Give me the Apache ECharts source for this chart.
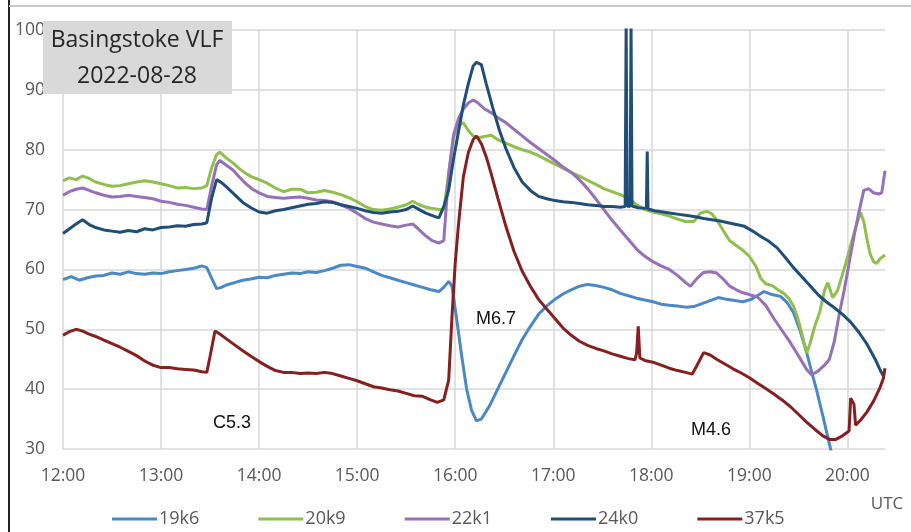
<!DOCTYPE html>
<html>
<head>
<meta charset="utf-8">
<script src="https://cdn.jsdelivr.net/npm/echarts@6/dist/echarts.min.js"></script>
<style>
  html, body { margin: 0; padding: 0; background: #fff; }
  #main { width: 911px; height: 532px; }
</style>
</head>
<body>
<div id="main"></div>
<script>
// x = minutes after 12:00 UTC, y = signal level
var hourLabels = ['12:00', '13:00', '14:00', '15:00', '16:00', '17:00', '18:00', '19:00', '20:00'];
var seriesNames = ['19k6', '20k9', '22k1', '24k0', '37k5'];

var s19k6 = [
  [0,58.3],[5,58.8],[10,58.2],[15,58.6],[20,58.9],[25,59.0],[30,59.4],[35,59.2],[40,59.6],[45,59.3],
  [50,59.2],[55,59.4],[60,59.3],[65,59.6],[70,59.8],[75,60.0],[80,60.2],[85,60.6],[88,60.3],[91,58.5],
  [94,56.8],[97,57.0],[100,57.4],[105,57.8],[110,58.2],[115,58.4],[120,58.7],[125,58.6],[130,59.0],[135,59.2],
  [140,59.4],[145,59.3],[150,59.6],[155,59.5],[160,59.8],[165,60.2],[170,60.7],[175,60.8],[180,60.5],[185,60.2],
  [190,59.6],[195,59.0],[200,58.6],[205,58.2],[210,57.8],[215,57.4],[220,57.0],[225,56.6],[230,56.3],[233,57.0],
  [236,58.0],[238,57.2],[241,51.5],[244,45.5],[247,40.0],[250,36.5],[253,34.7],[256,35.0],[261,37.2],[266,40.0],
  [271,42.8],[276,45.6],[281,48.3],[286,50.5],[291,52.5],[296,53.9],[301,55.0],[306,55.9],[311,56.6],[316,57.2],
  [321,57.5],[326,57.3],[331,57.0],[336,56.6],[341,56.0],[346,55.6],[351,55.2],[356,54.9],[361,54.6],[366,54.2],
  [371,54.0],[376,53.9],[381,53.7],[386,53.8],[391,54.3],[396,54.8],[401,55.3],[406,55.0],[411,54.8],[416,54.6],
  [421,55.0],[426,55.8],[429,56.3],[434,55.8],[439,55.5],[443,54.5],[447,52.8],[451,49.8],[455,46.2],[458,43.0],
  [461,40.0],[465,35.5],[469,30.8],[472,27.5]
];

var s20k9 = [
  [0,74.8],[4,75.3],[8,75.0],[12,75.6],[16,75.2],[20,74.6],[25,74.2],[30,73.9],[35,74.0],[40,74.3],
  [45,74.6],[50,74.8],[55,74.6],[60,74.3],[65,74.0],[70,73.6],[75,73.7],[80,73.5],[85,73.6],[88,74.0],
  [91,77.0],[94,79.2],[96,79.6],[100,78.6],[104,77.8],[108,76.8],[112,76.0],[116,75.4],[120,75.0],[125,74.4],
  [130,73.6],[135,73.0],[140,73.4],[145,73.4],[150,72.8],[155,72.9],[160,73.2],[165,72.9],[170,72.5],[175,72.0],
  [180,71.3],[185,70.5],[190,70.0],[195,69.9],[200,70.1],[205,70.4],[210,70.8],[214,71.4],[218,70.8],[222,70.4],
  [226,70.2],[230,70.0],[233,70.0],[236,76.0],[239,82.0],[242,84.0],[245,84.5],[248,83.2],[251,82.3],[254,82.0],
  [258,82.2],[262,82.4],[266,81.7],[271,81.1],[276,80.5],[281,80.0],[286,79.6],[291,79.0],[296,78.3],[301,77.6],
  [306,76.9],[311,76.2],[316,75.6],[321,74.9],[326,74.2],[331,73.5],[336,73.0],[341,72.5],[346,71.9],[351,70.8],
  [356,70.0],[361,69.6],[366,69.3],[371,68.9],[376,68.4],[381,68.0],[386,68.0],[390,69.4],[394,69.7],[397,69.3],
  [400,68.3],[404,66.5],[408,64.8],[412,64.0],[416,63.2],[420,62.2],[424,60.5],[427,58.5],[430,57.6],[434,57.3],
  [438,56.5],[441,56.0],[444,55.2],[447,53.9],[450,51.5],[453,48.3],[455,46.0],[457,47.5],[460,50.5],[463,52.8],
  [466,56.5],[468,57.8],[471,55.3],[474,56.5],[476,58.3],[479,61.0],[482,64.0],[485,67.0],[488,69.5],[490,68.0],
  [492,65.0],[494,62.5],[496,61.3],[498,61.0],[500,61.8],[503,62.4]
];

var s22k1 = [
  [0,72.4],[4,73.0],[8,73.4],[12,73.6],[16,73.2],[20,72.8],[25,72.4],[30,72.1],[35,72.2],[40,72.4],
  [45,72.2],[50,72.0],[55,71.8],[60,71.4],[65,71.2],[70,70.9],[75,70.7],[80,70.4],[85,70.1],[88,70.0],
  [91,74.0],[94,77.5],[96,78.2],[100,77.4],[104,76.6],[108,75.4],[112,74.3],[116,73.4],[120,72.8],[125,72.2],
  [130,72.0],[135,71.9],[140,72.0],[145,72.1],[150,71.9],[155,71.6],[160,71.5],[165,71.3],[170,70.8],[175,70.2],
  [180,69.4],[185,68.5],[190,67.9],[195,67.6],[200,67.3],[205,67.1],[210,67.4],[214,67.6],[218,66.6],[222,65.6],
  [226,64.8],[230,64.4],[233,64.8],[236,76.0],[239,82.5],[242,85.2],[245,86.8],[248,87.8],[251,88.3],[254,87.8],
  [258,86.8],[262,86.2],[266,85.4],[271,84.5],[276,83.4],[281,82.3],[286,81.2],[291,80.2],[296,79.2],[301,78.2],
  [306,77.1],[311,76.2],[316,75.0],[321,73.5],[326,71.8],[331,70.0],[336,68.2],[341,66.6],[346,65.0],[351,63.4],
  [356,62.2],[361,61.3],[366,60.6],[371,60.0],[376,59.0],[381,57.8],[384,57.2],[388,58.5],[392,59.5],[396,59.6],
  [400,59.4],[404,58.4],[408,57.2],[412,56.6],[416,56.1],[420,55.8],[425,55.4],[430,54.0],[435,51.8],[440,49.8],
  [445,47.8],[450,45.6],[455,43.3],[458,42.4],[462,43.0],[466,44.0],[469,45.0],[472,48.0],[475,52.5],[478,56.5],
  [481,61.0],[484,65.5],[487,69.5],[490,73.2],[493,73.5],[496,72.8],[499,72.6],[501,72.8],[503,76.5]
];

var s24k0 = [
  [0,66.0],[4,66.8],[8,67.6],[12,68.3],[16,67.5],[20,67.0],[25,66.6],[30,66.4],[35,66.2],[40,66.5],
  [45,66.3],[50,66.8],[55,66.6],[60,67.0],[65,67.1],[70,67.3],[75,67.2],[80,67.5],[85,67.6],[88,67.8],
  [91,72.0],[94,75.0],[97,74.5],[100,73.8],[105,72.5],[110,71.2],[115,70.3],[120,69.6],[125,69.4],[130,69.8],
  [135,70.0],[140,70.3],[145,70.6],[150,70.9],[155,71.0],[160,71.3],[165,71.2],[170,70.8],[175,70.5],[180,70.2],
  [185,69.8],[190,69.5],[195,69.4],[200,69.6],[205,69.7],[210,70.0],[214,70.6],[218,70.0],[222,69.4],[226,69.0],
  [230,68.6],[233,70.5],[236,73.3],[239,78.5],[242,83.0],[245,87.5],[248,91.0],[251,94.0],[253,94.6],[256,94.2],
  [259,91.0],[263,87.0],[267,83.3],[271,80.2],[276,77.0],[281,74.6],[286,73.2],[291,72.2],[296,71.8],[301,71.5],
  [306,71.3],[311,71.2],[316,71.0],[321,70.8],[326,70.7],[331,70.5],[336,70.5],[341,70.4],[344,70.5],[344.6,101],
  [345.2,70.6],[347,70.5],[347.6,101],[348.2,70.6],[352,70.3],[357,70.2],[357.5,79.7],[358,70.1],[362,69.8],[367,69.6],
  [372,69.4],[377,69.2],[382,69.0],[387,68.8],[392,68.5],[397,68.3],[402,68.1],[407,67.8],[412,67.5],[417,67.2],
  [422,66.4],[427,65.5],[432,64.7],[437,63.6],[442,62.0],[447,60.3],[452,58.8],[457,57.3],[462,55.8],[467,54.6],
  [472,53.6],[477,52.5],[482,51.2],[487,49.5],[492,47.5],[497,45.0],[500,43.2],[502,42.2]
];

var s37k5 = [
  [0,49.0],[4,49.6],[8,50.0],[12,49.7],[16,49.2],[20,48.8],[25,48.2],[30,47.6],[35,47.0],[40,46.3],
  [45,45.6],[50,44.7],[55,44.0],[60,43.6],[65,43.6],[70,43.4],[75,43.3],[80,43.2],[85,42.9],[88,42.8],
  [90,45.5],[93,49.7],[96,49.2],[100,48.4],[105,47.4],[110,46.4],[115,45.5],[120,44.6],[125,43.8],[130,43.1],
  [135,42.8],[140,42.8],[145,42.6],[150,42.7],[155,42.6],[160,42.8],[165,42.6],[170,42.2],[175,41.8],[180,41.4],
  [185,40.9],[190,40.4],[195,40.2],[200,39.9],[205,39.7],[210,39.3],[215,38.9],[220,38.8],[225,38.2],[229,37.8],
  [233,38.2],[236,41.5],[238,52.0],[240,61.0],[242,67.5],[245,75.5],[248,79.5],[251,81.7],[253,82.3],[256,81.0],
  [259,78.8],[262,76.0],[266,72.0],[271,67.2],[276,63.0],[281,59.7],[286,57.2],[291,55.0],[296,53.4],[301,51.8],
  [306,50.2],[311,49.0],[316,48.0],[321,47.3],[326,46.8],[331,46.4],[336,45.9],[341,45.5],[346,45.1],[350,44.9],
  [351,46.0],[352,50.5],[353,45.2],[356,44.8],[361,44.5],[366,44.0],[371,43.5],[376,43.1],[381,42.8],[385,42.5],
  [388,44.0],[392,46.1],[396,45.7],[400,45.0],[405,44.2],[410,43.4],[415,42.7],[420,41.9],[425,41.0],[430,40.1],
  [435,39.2],[440,38.2],[445,37.1],[450,35.8],[455,34.5],[460,33.3],[465,32.2],[469,31.6],[473,31.6],[477,32.2],
  [481,33.0],[482,38.5],[484,37.5],[485,34.0],[488,34.8],[492,36.2],[496,38.0],[500,40.3],[502,41.8],[503,43.5]
];

var seriesData = [s19k6, s20k9, s22k1, s24k0, s37k5];
var colors = ['#4a89c5', '#8fbf4c', '#9670b8', '#1f4e79', '#862020'];

var chart = echarts.init(document.getElementById('main'));

var series = seriesNames.map(function (name, i) {
    return {
        name: name,
        type: 'line',
        data: seriesData[i],
        showSymbol: false,
        symbol: 'none',
        clip: true,
        lineStyle: { width: 3, color: colors[i] },
        itemStyle: { color: colors[i] },
        z: 2 + i
    };
});

var option = {
    backgroundColor: '#fff',
    animation: false,
    grid: {
        left: 63,
        right: 26,
        top: 30,
        bottom: 83
    },
    xAxis: {
        type: 'value',
        min: 0,
        max: 503,
        interval: 60,
        axisLine: { show: false },
        axisTick: { show: false },
        splitLine: {
            show: true,
            showMaxLine: false,
            lineStyle: { color: '#d9d9d9', width: 1.5 }
        },
        axisLabel: {
            margin: 18,
            color: '#595959',
            fontSize: 17.5,
            fontFamily: 'Open Sans',
            showMaxLabel: false,
            formatter: function (v) {
                if (v % 60 !== 0) return '';
                return hourLabels[v / 60];
            }
        }
    },
    yAxis: {
        type: 'value',
        min: 30,
        max: 100,
        interval: 10,
        axisLine: { show: false },
        axisTick: { show: false },
        splitLine: { lineStyle: { color: '#d9d9d9', width: 1.5 } },
        axisLabel: {
            margin: 18,
            color: '#595959',
            fontSize: 17.5,
            fontFamily: 'Open Sans'
        }
    },
    legend: {
        data: seriesNames,
        left: 107,
        top: 505,
        icon: 'rect',
        itemWidth: 45,
        itemHeight: 3,
        itemGap: 59,
        textStyle: { color: '#595959', fontSize: 18, fontFamily: 'Open Sans', padding: [0, 0, 0, -3] }
    },
    graphic: [
        // frame of the screenshot
        { type: 'line', shape: { x1: 9, y1: 0, x2: 9, y2: 532 }, style: { stroke: '#222', lineWidth: 2 }, z: 100 },
        { type: 'line', shape: { x1: 9, y1: 6, x2: 911, y2: 6 }, style: { stroke: '#c8c8c8', lineWidth: 2 }, z: 100 },
        // title box
        { type: 'rect', shape: { x: 43, y: 21, width: 189, height: 73 }, style: { fill: '#d9d9d9' }, z: 100 },
        {
            type: 'text', x: 137, y: 58, z: 101,
            style: {
                text: 'Basingstoke VLF\n2022-08-28',
                fill: '#262626',
                font: '23px "Open Sans"',
                lineHeight: 36,
                align: 'center',
                verticalAlign: 'middle'
            }
        },
        // flare labels
        { type: 'text', x: 232, y: 423, z: 101, style: { text: 'C5.3', fill: '#111', font: '18px "Liberation Sans"', align: 'center', verticalAlign: 'middle' } },
        { type: 'text', x: 496, y: 319, z: 101, style: { text: 'M6.7', fill: '#111', font: '18px "Liberation Sans"', align: 'center', verticalAlign: 'middle' } },
        { type: 'text', x: 711, y: 430, z: 101, style: { text: 'M4.6', fill: '#111', font: '18px "Liberation Sans"', align: 'center', verticalAlign: 'middle' } },
        { type: 'text', x: 887, y: 504, z: 101, style: { text: 'UTC', fill: '#595959', font: '17px "Open Sans"', align: 'center', verticalAlign: 'middle' } }
    ],
    series: series
};

chart.setOption(option);
</script>
</body>
</html>
